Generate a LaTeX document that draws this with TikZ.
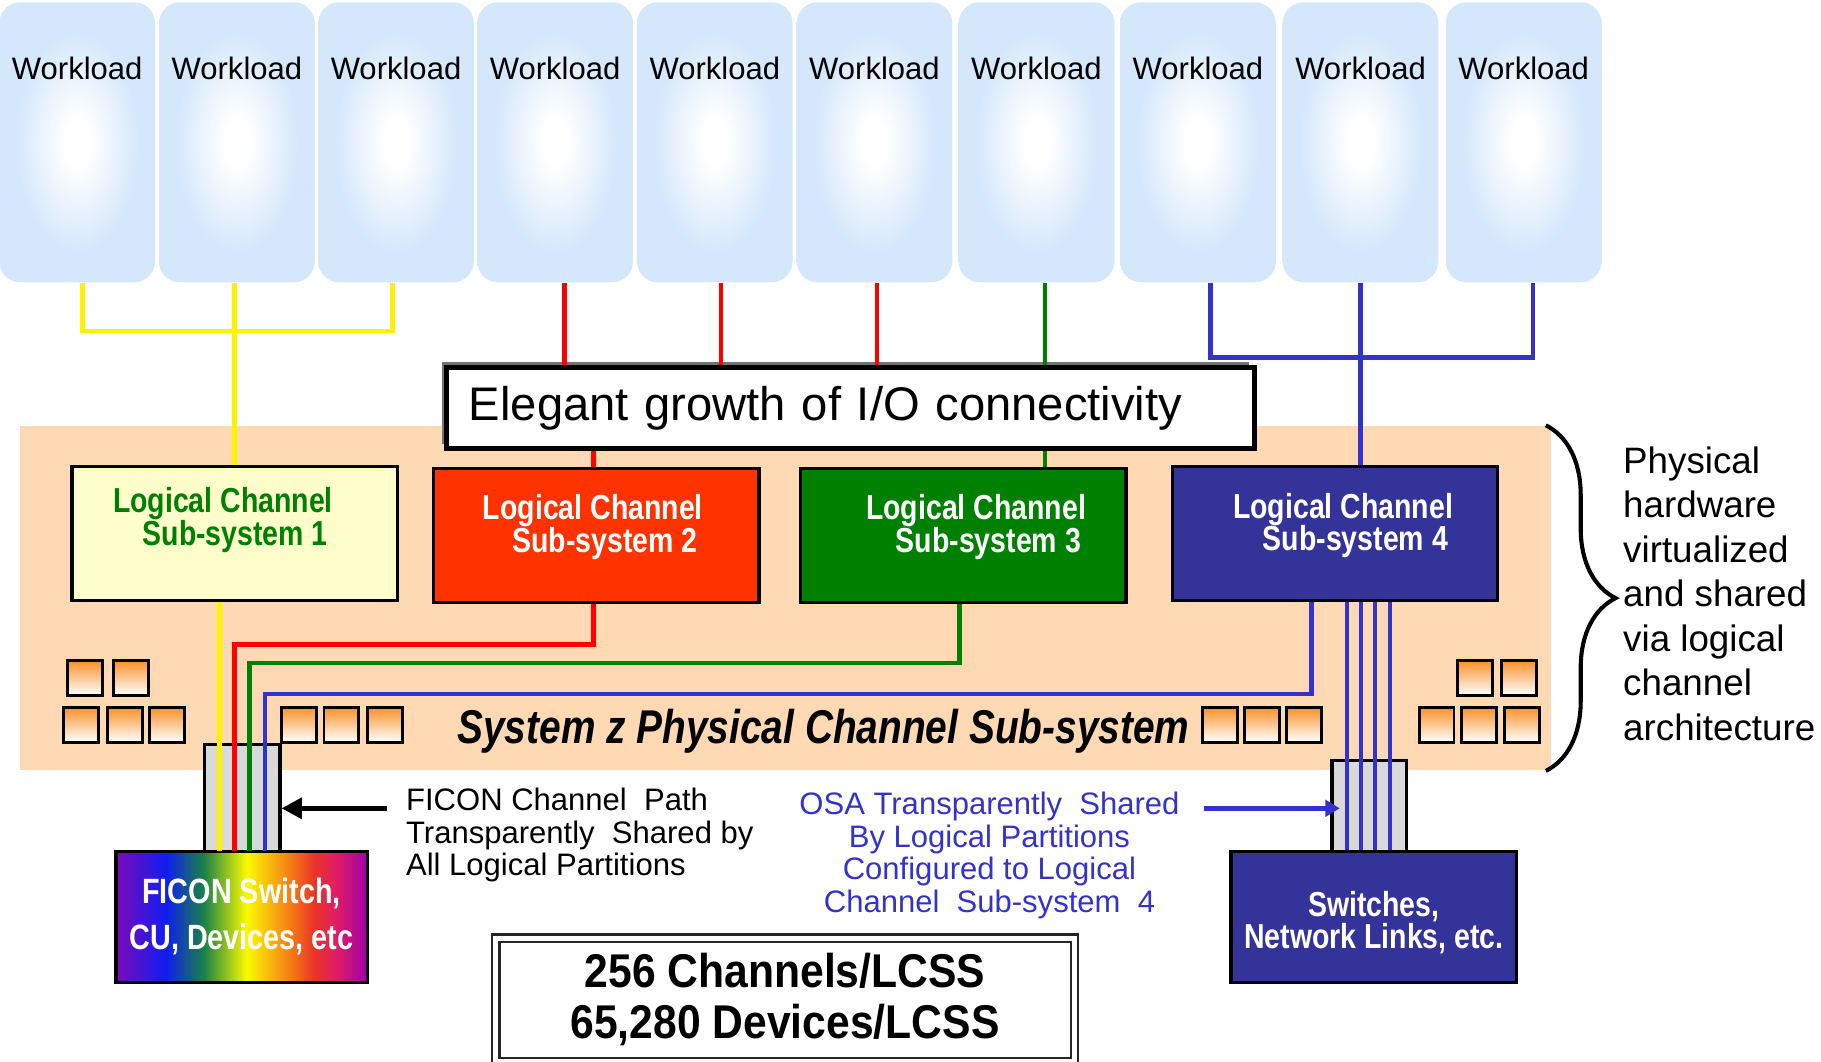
\documentclass[tikz,border=0pt]{standalone}
\usepackage{fontspec}
\setmainfont{Liberation Sans}
\newfontfamily\narrowfont[FakeStretch=0.82]{Liberation Sans}
\newfontfamily\countfont[FakeStretch=0.9]{Liberation Sans}
\usetikzlibrary{arrows.meta,decorations.pathreplacing,shadows}

\definecolor{wlblue}{RGB}{212,231,251}
\definecolor{peach}{RGB}{254,217,180}
\definecolor{lcyellow}{RGB}{255,255,204}
\definecolor{lcred}{RGB}{255,51,0}
\definecolor{lcgreen}{RGB}{0,128,0}
\definecolor{lcblue}{RGB}{51,51,153}
\definecolor{lineblue}{RGB}{51,51,204}
\definecolor{slotorange}{RGB}{248,145,40}
\definecolor{portgray}{RGB}{217,217,217}
\definecolor{rbpurple}{RGB}{125,10,185}
\definecolor{rbblue}{RGB}{15,30,240}
\definecolor{rbgreen}{RGB}{25,130,70}
\definecolor{rbyellow}{RGB}{250,250,0}
\definecolor{rborange}{RGB}{245,135,20}
\definecolor{rbred}{RGB}{235,50,40}
\definecolor{rbpink}{RGB}{225,30,100}
\definecolor{rbpurpleb}{RGB}{160,0,170}

\pgfdeclareradialshading{wlglow}{\pgfpoint{0bp}{0bp}}{color(0bp)=(white); color(4bp)=(white); color(20bp)=(wlblue); color(50bp)=(wlblue)}
\pgfdeclarehorizontalshading{rainbow}{100bp}{color(0bp)=(rbpurple); color(25bp)=(rbpurple); color(35bp)=(rbblue); color(42.5bp)=(rbgreen); color(51bp)=(rbyellow); color(59bp)=(rborange); color(64.5bp)=(rbred); color(68.5bp)=(rbpink); color(75bp)=(rbpurpleb); color(100bp)=(rbpurpleb)}

\tikzset{
  wl/.style={shade, shading=wlglow, rounded corners=0.18cm, minimum width=1.34cm, minimum height=2.41cm, inner sep=0},
  wltext/.style={yshift=0.64cm, font=\fontsize{7.6}{9}\selectfont},
  lcss/.style={draw, line width=0.8pt, minimum width=2.8cm, minimum height=1.15cm, inner sep=0},
  lcsstext/.style={align=center, text=white, yshift=0.07cm, xshift=-0.03cm, font={\narrowfont\bfseries\fontsize{8.5}{8}\selectfont}},
  slot/.style={draw, line width=0.7pt, top color=slotorange, bottom color=white, minimum size=0.3cm, inner sep=0},
  portbox/.style={draw, line width=0.8pt, fill=portgray, inner sep=0},
  yline/.style={draw=yellow, line width=1.1pt},
  rline/.style={draw=red, line width=1.1pt},
  gline/.style={draw=lcgreen, line width=1.1pt},
  bline/.style={draw=lineblue, line width=1.1pt},
  note/.style={inner sep=0, font=\fontsize{7.6}{8}\selectfont}
}

\begin{document}
\begin{tikzpicture}[x=0.01cm, y=-0.01cm]
  \useasboundingbox (0,0) rectangle (1568,914);
  \def\ybus{285}
  \def\bbus{308}

  % Physical channel sub-system
  \node[fill=peach, minimum width=13.17cm, minimum height=2.96cm, inner sep=0] (pcs) at (676.5,515) {};

  % Workloads
  \foreach \x [count=\i] in {66.5,204,341,478,615.5,753,892.5,1031.5,1171.5,1312}
    {
      \node[wl, label={[wltext]center:Workload}] (w\i) at (\x,122.5) {};
    }

  % Channel slots
  \foreach \x/\y [count=\k] in {73.5/583.5, 112.5/583.5, 70/624, 107.5/624, 144/624,
      257.5/624, 294/624, 331.5/624, 1050.5/624, 1086.5/624, 1123/624,
      1270/583.5, 1308/583.5, 1237/624, 1273.5/624, 1310.5/624}
    {
      \node[slot] (slot\k) at (\x,\y) {};
    }
  \node[inner sep=0, font={\narrowfont\bfseries\itshape\fontsize{11.6}{14}\selectfont}] (pcslabel) at (709,630) {System z Physical Channel Sub-system};

  % Ports and devices
  \node[portbox, minimum width=0.65cm, minimum height=0.92cm] (ficonport) at (208.5,687) {};
  \node[portbox, minimum width=0.64cm, minimum height=0.78cm] (osaport) at (1179,694) {};
  \node[draw, line width=0.8pt, shade, shading=rainbow, minimum width=2.16cm, minimum height=1.13cm, align=center, text=white,
        font={\narrowfont\bfseries\fontsize{8.6}{11.3}\selectfont}] (ficon) at (208,789.5) {FICON Switch,\\CU, Devices, etc};
  \node[draw, line width=0.8pt, fill=lcblue, minimum width=2.46cm, minimum height=1.13cm, inner sep=0,
        label={[align=center, text=white, yshift=-0.05cm, font={\narrowfont\bfseries\fontsize{8.5}{7.7}\selectfont\lineskiplimit=-5pt}]center:Switches,\\Network Links, etc.}] (switches) at (1183,789.5) {};

  % Logical channel sub-systems
  \node[lcss, fill=lcyellow, label={[lcsstext, text=lcgreen, yshift=0.05cm, xshift=-0.07cm]center:Logical Channel\\\hspace*{6pt}Sub-system 1}] (lcss1) at (202,459.5) {};
  \node[lcss, fill=lcred, label={[lcsstext]center:Logical Channel\\\hspace*{6pt}Sub-system 2}] (lcss2) at (513.5,461) {};
  \node[lcss, fill=lcgreen, label={[lcsstext, xshift=0.14cm]center:Logical Channel\\\hspace*{6pt}Sub-system 3}] (lcss3) at (829.5,461) {};
  \node[lcss, fill=lcblue, label={[lcsstext, xshift=0.1cm]center:Logical Channel\\\hspace*{6pt}Sub-system 4}] (lcss4) at (1149.5,459.5) {};

  % Growth banner
  \node[draw, line width=1.2pt, fill=white, text width=6.57cm, inner xsep=0.19cm, minimum height=0.7cm, align=left,
        drop shadow={shadow xshift=-1.3pt, shadow yshift=1.3pt, fill=black!55, opacity=1},
        font=\fontsize{11.55}{14}\selectfont] (growth) at (732.5,351.5) {Elegant growth of I/O connectivity};

  % Workload connections
  \draw[yline] ([xshift=0.045cm]w1.south) -- ([xshift=0.045cm]w1.south |- 0,\ybus) -- ([xshift=-0.03cm]w3.south |- 0,\ybus) -- ([xshift=-0.03cm]w3.south);
  \draw[yline] ([xshift=-0.02cm]w2.south) -- ([xshift=-0.02cm]w2.south |- lcss1.north);
  \foreach \w/\s in {w4/0.08, w5/0.055, w6/0.02}
    {
      \draw[rline] ([xshift=\s cm]\w.south) -- ([xshift=\s cm]\w.south |- growth.north);
    }
  \draw[rline] ([xshift=-0.025cm]lcss2.north |- growth.south) -- ([xshift=-0.025cm]lcss2.north);
  \draw[gline] ([xshift=0.075cm]w7.south) -- ([xshift=0.075cm]w7.south |- growth.north);
  \draw[gline] ([xshift=0.075cm]w7.south |- growth.south) -- ([xshift=0.075cm]w7.south |- lcss3.north);
  \draw[bline] ([xshift=0.11cm]w8.south) -- ([xshift=0.11cm]w8.south |- 0,\bbus) -- ([xshift=0.08cm]w10.south |- 0,\bbus) -- ([xshift=0.08cm]w10.south);
  \draw[bline] (w9.south) -- (w9.south |- lcss4.north);

  % Channel paths to the devices
  \coordinate (laneY) at (189,733);
  \coordinate (laneR) at (202,733);
  \coordinate (laneG) at (215,733);
  \coordinate (laneB) at (228,733);
  \draw[yline] (lcss1.south -| laneY) -- (laneY);
  \draw[rline] ([xshift=-0.025cm]lcss2.south) -- ++(0,35) -| (laneR);
  \draw[gline] ([xshift=-0.035cm]lcss3.south) -- ++(0,51) -| (laneG);
  \draw[bline] ([xshift=-0.2cm]lcss4.south) -- ++(0,79) -| (laneB);
  \foreach \x in {1160,1172,1184,1197}
    {
      \draw[bline] (lcss4.south -| \x,0) -- (switches.north -| \x,0);
    }

  % Notes
  \node[note, anchor=west, align=left] (ficonnote) at (349,719) {FICON Channel\ \ Path\\Transparently\ \ Shared by\\All Logical Partitions};
  \node[note, align=center, text=lineblue] (osanote) at (852,736.5) {OSA Transparently\ \ Shared\\By Logical Partitions\\Configured to Logical\\Channel\ \ Sub-system\ \ 4};
  \coordinate (ficontail) at (333,696);
  \coordinate (osatail) at (1037,696);
  \draw[line width=1.3pt, -{Triangle[length=5pt, width=5pt]}] (ficontail) -- (ficontail -| ficonport.east);
  \draw[draw=lineblue, line width=1.1pt, shorten >=-0.08cm, -{Triangle[length=3.5pt, width=4pt]}] (osatail) -- (osatail -| osaport.west);

  % Counts
  \node[draw=black!85, double, double distance=1.2pt, line width=0.6pt, minimum width=4.98cm, minimum height=1.06cm, align=center,
        font={\countfont\bfseries\fontsize{11.6}{12.5}\selectfont}] (counts) at (676,861) {256 Channels/LCSS\\65,280 Devices/LCSS};

  % Brace and remark
  \draw[line width=1pt, decorate, decoration={brace, amplitude=0.6cm}] ([xshift=-0.05cm]pcs.north east) -- ([xshift=-0.05cm]pcs.south east);
  \node[inner sep=0, anchor=west, align=left, font=\fontsize{9}{10.9}\selectfont] (remark) at (1397,511)
    {Physical\\hardware\\virtualized\\and shared\\via logical\\channel\\architecture};
\end{tikzpicture}
\end{document}
